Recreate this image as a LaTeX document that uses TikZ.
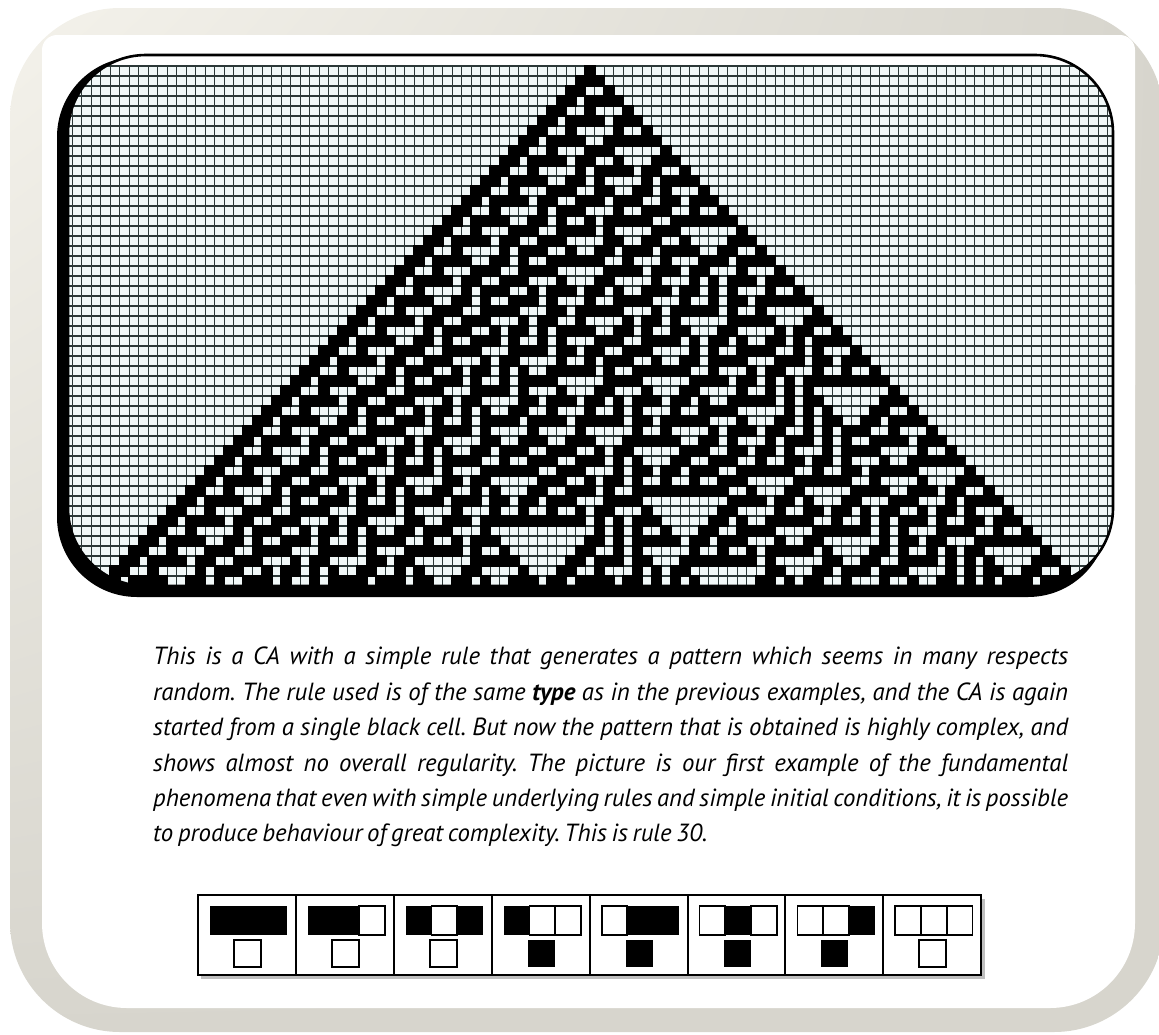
\documentclass[tikz,border=0pt]{standalone}
\usepackage{fontspec}
\setmainfont{PT Sans}
\usetikzlibrary{shadings}
\definecolor{framegray}{HTML}{D7D5CD}
\definecolor{framelight}{HTML}{F4F2EB}
\definecolor{gridcol}{HTML}{2C3838}
\definecolor{cellcol}{HTML}{F1F8F8}

% state of a cell of rule 30, 0 if never set
\newcommand\castate[2]{\ifcsname ca-#1-#2\endcsname\csname ca-#1-#2\endcsname\else0\fi}
\newcommand\rulecell[5]{\ifnum#1=1 \fill[ruleon] (#2,#3) rectangle ++(#4,#5);\else\filldraw[ruleoff] (#2,#3) rectangle ++(#4,#5);\fi}
\newcommand\capfont{\fontsize{24.8}{35.4}\selectfont\itshape\frenchspacing\spaceskip=0.19em plus 1em minus 0.03em\relax}

\tikzset{
  gridline/.style={draw=gridcol, line width=1.4pt},
  cellon/.style={fill=black},
  rulebox/.style={draw=black, line width=2.6pt},
  ruleon/.style={fill=black},
  ruleoff/.style={fill=white, draw=black, line width=1.8pt},
  captext/.style={font=\capfont, text width=915pt, align=justify, inner sep=0pt}
}

\begin{document}
\begin{tikzpicture}[x=1pt, y=-1pt]
  \useasboundingbox (0,0) rectangle (1159,1034);
  % frame
  \shade[rounded corners=110, upper left=framelight, upper right=framegray, lower left=framegray, lower right=framegray] (10,8) rectangle (1164,1032);
  \fill[white, rounded corners=15] (42,35) rectangle (1135,400);
  \fill[white, rounded corners=85] (42,200) rectangle (1135,1008);

  % pattern panel
  \fill[black, rounded corners=80] (57,57) rectangle (1108,597);
  \fill[white, rounded corners=78] (68,55) rectangle (1113,586);
  \begin{scope}
    \clip[rounded corners=78] (68,55) rectangle (1113,586);
    \clip (0,65) rectangle (1159,600);
    \fill[cellcol] (60,60) rectangle (1120,600);
    \foreach \k in {-56,...,56}
      \draw[gridline] ({585.25+9.5*\k},60) -- ++(0,540);
    \foreach \k in {0,...,53}
      \draw[gridline] (60,{66+10*\k}) -- ++(1060,0);
    % rule 30, started from one black cell
    \expandafter\gdef\csname ca-0-0\endcsname{1}
    \fill[cellon] (584.45,65.2) rectangle ++(11.1,11.6);
    \foreach \row in {1,...,51}{
      \foreach \col in {-\row,...,\row}{
        \edef\prv{\the\numexpr\row-1\relax}%
        \edef\lft{\the\numexpr\col-1\relax}%
        \edef\rgt{\the\numexpr\col+1\relax}%
        \xdef\nxt{\ifcase\numexpr4*\castate{\prv}{\lft}+2*\castate{\prv}{\col}+\castate{\prv}{\rgt}\relax 0\or1\or1\or1\or1\else0\fi}%
        \expandafter\xdef\csname ca-\row-\col\endcsname{\nxt}%
        \ifnum\nxt=1 \fill[cellon] ({585.25+9.5*\col-0.8},{66+10*\row-0.8}) rectangle ++(11.1,11.6);\fi
      }
    }
  \end{scope}
  \draw[line width=2.6pt, rounded corners=78] (68,55) rectangle (1113,586);

  % caption
  \node[captext, anchor=north west] (caption) at (153,647) {This is a CA with a simple rule that generates a pattern which seems in many respects\linebreak
    random. The rule used is of the same \textbf{type} as in the previous examples, and the CA is again\linebreak
    started from a single black cell. But now the pattern that is obtained is highly complex, and\linebreak
    shows almost no overall regularity. The picture is our first example of the fundamental\linebreak
    phenomena that even with simple underlying rules and simple initial conditions, it is possible\linebreak
    to produce behaviour of great complexity. This is rule 30.};

  % the eight cases of rule 30
  \fill[black!25] (201,899) rectangle (985,979);
  \fill[white] (198,895) rectangle (981,975);
  \foreach \a/\b/\d/\o [count=\i from 0] in {1/1/1/0,1/1/0/0,1/0/1/0,1/0/0/1,0/1/1/1,0/1/0/1,0/0/1/1,0/0/0/0}{
    \pgfmathsetmacro\bx{198+97.9*\i}
    \rulecell{\a}{\bx+12}{906}{25.7}{29}
    \rulecell{\b}{\bx+37.7}{906}{25.7}{29}
    \rulecell{\d}{\bx+63.4}{906}{25.7}{29}
    \rulecell{\o}{\bx+36}{940}{27}{27}
    \ifnum\i>0 \draw[line width=2pt] (\bx,895) -- (\bx,975);\fi
  }
  \draw[rulebox] (198,895) rectangle (981,975);
\end{tikzpicture}
\end{document}
